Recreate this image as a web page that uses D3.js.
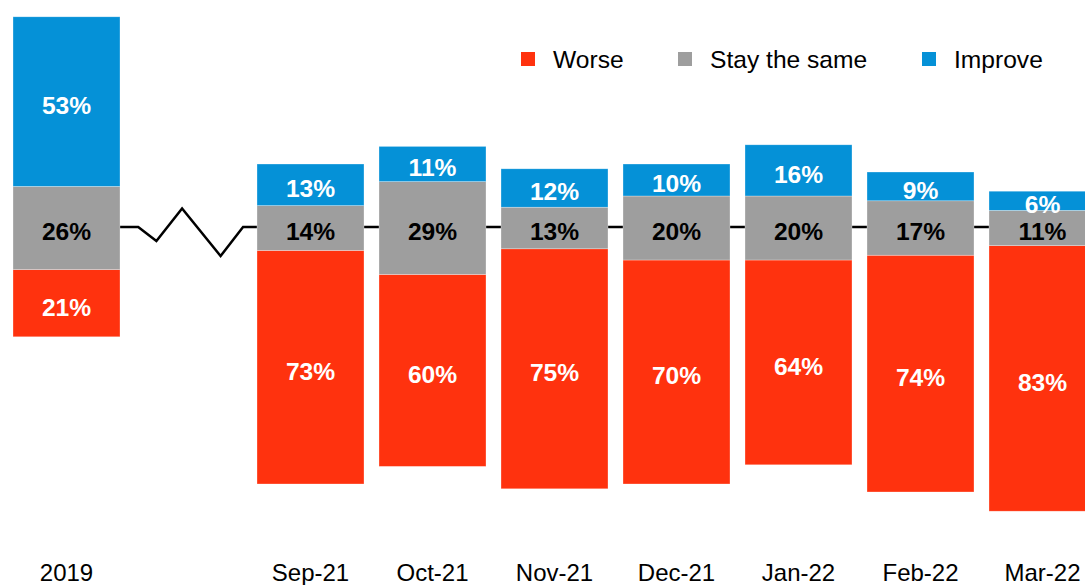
<!DOCTYPE html>
<html>
<head>
<meta charset="utf-8">
<script src="https://cdn.jsdelivr.net/npm/d3@7"></script>
<style>
  html, body { margin: 0; padding: 0; background: #fff; }
  svg { display: block; font-family: "Liberation Sans", Arial, sans-serif; }
</style>
</head>
<body>
<svg id="chart" width="1085" height="585"></svg>
<script>
// Survey periods (a gap slot sits between 2019 and the monthly series)
const categories = ["2019", "Sep-21", "Oct-21", "Nov-21", "Dec-21", "Jan-22", "Feb-22", "Mar-22"];
// Share of respondents, in percent
const worse   = [21, 73, 60, 75, 70, 64, 74, 83];
const same    = [26, 14, 29, 13, 20, 20, 17, 11];
const improve = [53, 13, 11, 12, 10, 16, 9, 6];
const seriesNames = ["Worse", "Stay the same", "Improve"];

const colors = { "Worse": "#FF320E", "Stay the same": "#9E9E9E", "Improve": "#0591D7" };
const labelColors = { "Worse": "#fff", "Stay the same": "#000", "Improve": "#fff" };

const width = 1085, height = 585;
const svg = d3.select("#chart");

const BREAK = "__break__";
const slots = [categories[0], BREAK, ...categories.slice(1)];

const x = d3.scaleBand()
  .domain(slots)
  .range([5.5, 1103.5])
  .paddingInner(15 / 122)
  .paddingOuter(7.5 / 122);

// Diverging scale: "stay the same" is centred on zero
const y = d3.scaleLinear().domain([-100, 100]).range([548, -92]);

// Build the segments for each period
const rows = categories.map((c, i) => {
  const s = same[i], w = worse[i], im = improve[i];
  return [
    { cat: c, key: "Worse", value: w, y0: -s / 2 - w, y1: -s / 2 },
    { cat: c, key: "Stay the same", value: s, y0: -s / 2, y1: s / 2 },
    { cat: c, key: "Improve", value: im, y0: s / 2, y1: s / 2 + im }
  ];
});
const segments = rows.flat();

// Baseline with a break symbol in the gap slot
const y0 = y(0) - 1;
const bx = x(BREAK), bw = x.bandwidth();
const linePts = [
  [x(categories[0]) + bw, y0],
  [bx + bw * 0.03, y0],
  [bx + bw * 0.20, y0 + 14],
  [bx + bw * 0.44, y0 - 18.5],
  [bx + bw * 0.80, y0 + 29],
  [bx + bw * 1.01, y0],
  [width, y0]
];
svg.append("path")
  .attr("d", d3.line()(linePts))
  .attr("fill", "none")
  .attr("stroke", "#000")
  .attr("stroke-width", 2.5)
  .attr("stroke-linejoin", "miter");

// Bars
svg.append("g")
  .selectAll("rect")
  .data(segments)
  .join("rect")
  .attr("x", d => x(d.cat))
  .attr("width", x.bandwidth())
  .attr("y", d => y(d.y1))
  .attr("height", d => y(d.y0) - y(d.y1))
  .attr("fill", d => colors[d.key])
  .attr("stroke", "#fff")
  .attr("stroke-opacity", 0.5)
  .attr("stroke-width", 0.6);

// Value labels
svg.append("g")
  .selectAll("text")
  .data(segments)
  .join("text")
  .attr("x", d => x(d.cat) + x.bandwidth() / 2)
  .attr("y", d => (y(d.y0) + y(d.y1)) / 2)
  .attr("dy", "0.5em")
  .attr("text-anchor", "middle")
  .attr("font-size", 24.6)
  .attr("font-weight", "bold")
  .attr("fill", d => labelColors[d.key])
  .text(d => d.value + "%");

// Category axis
const axis = svg.append("g")
  .attr("transform", "translate(0,560)")
  .call(d3.axisBottom(x).tickValues(categories).tickSize(0).tickPadding(4));
axis.select(".domain").remove();
axis.selectAll("text")
  .attr("font-size", 24)
  .attr("font-family", "\"Liberation Sans\", Arial, sans-serif")
  .attr("fill", "#000");

// Legend
const legendX = [521, 678, 922];
const legend = svg.append("g")
  .selectAll("g")
  .data(seriesNames)
  .join("g")
  .attr("transform", (d, i) => `translate(${legendX[i]},52)`);
legend.append("rect")
  .attr("width", 14).attr("height", 14)
  .attr("fill", d => colors[d]);
legend.append("text")
  .attr("x", 32).attr("y", 16)
  .attr("font-size", 24.6)
  .attr("fill", "#000")
  .text(d => d);
</script>
</body>
</html>
